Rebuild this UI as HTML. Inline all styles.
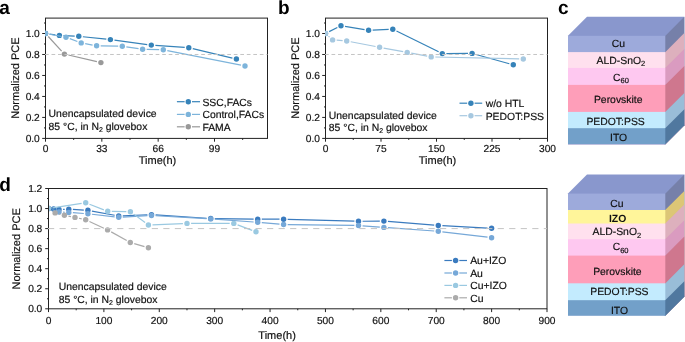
<!DOCTYPE html>
<html><head><meta charset="utf-8"><style>
html,body{margin:0;padding:0;background:#fff;}
body{width:685px;height:342px;overflow:hidden;}
svg{display:block;font-family:"Liberation Sans", sans-serif;will-change:transform;text-rendering:geometricPrecision;}
</style></head><body>
<svg width="685" height="342" viewBox="0 0 685 342">
<rect width="685" height="342" fill="#fff"/>
<rect x="45.50" y="18.10" width="222.00" height="120.30" fill="none" stroke="#222" stroke-width="1.0"/>
<line x1="45.50" y1="138.40" x2="45.50" y2="141.70" stroke="#222" stroke-width="1.0" />
<line x1="101.83" y1="138.40" x2="101.83" y2="141.70" stroke="#222" stroke-width="1.0" />
<line x1="158.17" y1="138.40" x2="158.17" y2="141.70" stroke="#222" stroke-width="1.0" />
<line x1="214.50" y1="138.40" x2="214.50" y2="141.70" stroke="#222" stroke-width="1.0" />
<line x1="73.67" y1="138.40" x2="73.67" y2="139.90" stroke="#222" stroke-width="1.0" />
<line x1="130.00" y1="138.40" x2="130.00" y2="139.90" stroke="#222" stroke-width="1.0" />
<line x1="186.34" y1="138.40" x2="186.34" y2="139.90" stroke="#222" stroke-width="1.0" />
<line x1="242.67" y1="138.40" x2="242.67" y2="139.90" stroke="#222" stroke-width="1.0" />
<line x1="42.20" y1="138.40" x2="45.50" y2="138.40" stroke="#222" stroke-width="1.0" />
<line x1="42.20" y1="117.42" x2="45.50" y2="117.42" stroke="#222" stroke-width="1.0" />
<line x1="42.20" y1="96.44" x2="45.50" y2="96.44" stroke="#222" stroke-width="1.0" />
<line x1="42.20" y1="75.46" x2="45.50" y2="75.46" stroke="#222" stroke-width="1.0" />
<line x1="42.20" y1="54.48" x2="45.50" y2="54.48" stroke="#222" stroke-width="1.0" />
<line x1="42.20" y1="33.50" x2="45.50" y2="33.50" stroke="#222" stroke-width="1.0" />
<line x1="44.00" y1="127.91" x2="45.50" y2="127.91" stroke="#222" stroke-width="1.0" />
<line x1="44.00" y1="106.93" x2="45.50" y2="106.93" stroke="#222" stroke-width="1.0" />
<line x1="44.00" y1="85.95" x2="45.50" y2="85.95" stroke="#222" stroke-width="1.0" />
<line x1="44.00" y1="64.97" x2="45.50" y2="64.97" stroke="#222" stroke-width="1.0" />
<line x1="44.00" y1="43.99" x2="45.50" y2="43.99" stroke="#222" stroke-width="1.0" />
<line x1="44.00" y1="23.01" x2="45.50" y2="23.01" stroke="#222" stroke-width="1.0" />
<text x="45.50" y="151.90" font-size="10.2" text-anchor="middle" font-weight="normal" fill="#111" stroke="#111" stroke-width="0.18" >0</text>
<text x="101.83" y="151.90" font-size="10.2" text-anchor="middle" font-weight="normal" fill="#111" stroke="#111" stroke-width="0.18" >33</text>
<text x="158.17" y="151.90" font-size="10.2" text-anchor="middle" font-weight="normal" fill="#111" stroke="#111" stroke-width="0.18" >66</text>
<text x="214.50" y="151.90" font-size="10.2" text-anchor="middle" font-weight="normal" fill="#111" stroke="#111" stroke-width="0.18" >99</text>
<text x="39.80" y="142.00" font-size="10.2" text-anchor="end" font-weight="normal" fill="#111" stroke="#111" stroke-width="0.18" >0.0</text>
<text x="39.80" y="121.02" font-size="10.2" text-anchor="end" font-weight="normal" fill="#111" stroke="#111" stroke-width="0.18" >0.2</text>
<text x="39.80" y="100.04" font-size="10.2" text-anchor="end" font-weight="normal" fill="#111" stroke="#111" stroke-width="0.18" >0.4</text>
<text x="39.80" y="79.06" font-size="10.2" text-anchor="end" font-weight="normal" fill="#111" stroke="#111" stroke-width="0.18" >0.6</text>
<text x="39.80" y="58.08" font-size="10.2" text-anchor="end" font-weight="normal" fill="#111" stroke="#111" stroke-width="0.18" >0.8</text>
<text x="39.80" y="37.10" font-size="10.2" text-anchor="end" font-weight="normal" fill="#111" stroke="#111" stroke-width="0.18" >1.0</text>
<defs><clipPath id="ca"><rect x="45" y="17.6" width="223" height="121.4"/></clipPath><clipPath id="cb"><rect x="325" y="17.6" width="223" height="121.4"/></clipPath><clipPath id="cd"><rect x="49" y="188" width="498.5" height="121.3"/></clipPath></defs>
<g stroke="#999999" stroke-width="1.2" clip-path="url(#ca)"><line x1="48.27" y1="36.52" x2="61.63" y2="51.08"/><line x1="68.39" y1="55.03" x2="96.91" y2="61.67"/></g>
<g fill="#999999" clip-path="url(#ca)"><circle cx="45.50" cy="33.50" r="2.7"/><circle cx="64.40" cy="54.10" r="2.7"/><circle cx="100.90" cy="62.60" r="2.7"/></g>
<g stroke="#3683b9" stroke-width="1.2" clip-path="url(#ca)"><line x1="49.56" y1="34.06" x2="55.34" y2="34.84"/><line x1="63.50" y1="35.59" x2="74.70" y2="36.11"/><line x1="82.88" y1="36.73" x2="106.32" y2="39.17"/><line x1="114.46" y1="40.15" x2="147.24" y2="44.55"/><line x1="155.39" y1="45.38" x2="184.71" y2="47.42"/><line x1="192.79" y1="48.65" x2="232.41" y2="58.05"/></g>
<g fill="#3683b9" clip-path="url(#ca)"><circle cx="45.50" cy="33.50" r="2.7"/><circle cx="59.40" cy="35.40" r="2.7"/><circle cx="78.80" cy="36.30" r="2.7"/><circle cx="110.40" cy="39.60" r="2.7"/><circle cx="151.30" cy="45.10" r="2.7"/><circle cx="188.80" cy="47.70" r="2.7"/><circle cx="236.40" cy="59.00" r="2.7"/></g>
<g stroke="#7db4db" stroke-width="1.2" clip-path="url(#ca)"><line x1="49.53" y1="34.23" x2="61.97" y2="36.47"/><line x1="69.84" y1="38.64" x2="77.36" y2="41.46"/><line x1="85.23" y1="43.66" x2="92.57" y2="45.04"/><line x1="100.70" y1="45.88" x2="118.20" y2="46.22"/><line x1="126.36" y1="46.88" x2="138.54" y2="48.62"/><line x1="146.70" y1="49.32" x2="159.20" y2="49.68"/><line x1="167.32" y1="50.60" x2="240.98" y2="65.20"/></g>
<g fill="#7db4db" clip-path="url(#ca)"><circle cx="45.50" cy="33.50" r="2.7"/><circle cx="66.00" cy="37.20" r="2.7"/><circle cx="81.20" cy="42.90" r="2.7"/><circle cx="96.60" cy="45.80" r="2.7"/><circle cx="122.30" cy="46.30" r="2.7"/><circle cx="142.60" cy="49.20" r="2.7"/><circle cx="163.30" cy="49.80" r="2.7"/><circle cx="245.00" cy="66.00" r="2.7"/></g>
<line x1="45.0" y1="54.47999999999999" x2="267.5" y2="54.47999999999999" stroke="#c4c4c4" stroke-width="1.0" stroke-dasharray="3.7 2.81" stroke-dashoffset="0"/>
<line x1="176.90" y1="101.70" x2="184.60" y2="101.70" stroke="#3683b9" stroke-width="1.2" />
<line x1="192.00" y1="101.70" x2="200.00" y2="101.70" stroke="#3683b9" stroke-width="1.2" />
<circle cx="188.3" cy="101.7" r="2.7" fill="#3683b9"/>
<text x="202.40" y="105.60" font-size="10.4" text-anchor="start" font-weight="normal" fill="#111" stroke="#111" stroke-width="0.18" >SSC,FACs</text>
<line x1="176.90" y1="114.40" x2="184.60" y2="114.40" stroke="#7db4db" stroke-width="1.2" />
<line x1="192.00" y1="114.40" x2="200.00" y2="114.40" stroke="#7db4db" stroke-width="1.2" />
<circle cx="188.3" cy="114.4" r="2.7" fill="#7db4db"/>
<text x="202.40" y="118.30" font-size="10.4" text-anchor="start" font-weight="normal" fill="#111" stroke="#111" stroke-width="0.18" >Control,FACs</text>
<line x1="176.90" y1="126.80" x2="184.60" y2="126.80" stroke="#999999" stroke-width="1.2" />
<line x1="192.00" y1="126.80" x2="200.00" y2="126.80" stroke="#999999" stroke-width="1.2" />
<circle cx="188.3" cy="126.8" r="2.7" fill="#999999"/>
<text x="202.40" y="130.70" font-size="10.4" text-anchor="start" font-weight="normal" fill="#111" stroke="#111" stroke-width="0.18" >FAMA</text>
<text x="48.60" y="117.00" font-size="10.4" text-anchor="start" font-weight="normal" fill="#111" stroke="#111" stroke-width="0.18" >Unencapsulated device</text>
<text x="48.60" y="129.60" font-size="10.4" text-anchor="start" font-weight="normal" fill="#111" stroke="#111" stroke-width="0.18" >85 °C, in N<tspan font-size="7" dy="2.2">2</tspan><tspan dy="-2.2"> glovebox</tspan></text>
<text x="157.55" y="163.90" font-size="11" text-anchor="middle" font-weight="normal" fill="#111" stroke="#111" stroke-width="0.18" >Time(h)</text>
<text x="18.90" y="78.05" font-size="11" text-anchor="middle" font-weight="normal" fill="#111" stroke="#111" stroke-width="0.18" transform="rotate(-90 18.9 78.05)">Normalized PCE</text>
<text x="-0.80" y="13.70" font-size="19" text-anchor="start" font-weight="bold" fill="#000" >a</text>
<rect x="325.50" y="18.10" width="222.00" height="120.30" fill="none" stroke="#222" stroke-width="1.0"/>
<line x1="325.50" y1="138.40" x2="325.50" y2="141.70" stroke="#222" stroke-width="1.0" />
<line x1="381.00" y1="138.40" x2="381.00" y2="141.70" stroke="#222" stroke-width="1.0" />
<line x1="436.50" y1="138.40" x2="436.50" y2="141.70" stroke="#222" stroke-width="1.0" />
<line x1="492.00" y1="138.40" x2="492.00" y2="141.70" stroke="#222" stroke-width="1.0" />
<line x1="547.50" y1="138.40" x2="547.50" y2="141.70" stroke="#222" stroke-width="1.0" />
<line x1="353.25" y1="138.40" x2="353.25" y2="139.90" stroke="#222" stroke-width="1.0" />
<line x1="408.75" y1="138.40" x2="408.75" y2="139.90" stroke="#222" stroke-width="1.0" />
<line x1="464.25" y1="138.40" x2="464.25" y2="139.90" stroke="#222" stroke-width="1.0" />
<line x1="519.75" y1="138.40" x2="519.75" y2="139.90" stroke="#222" stroke-width="1.0" />
<line x1="322.20" y1="138.40" x2="325.50" y2="138.40" stroke="#222" stroke-width="1.0" />
<line x1="322.20" y1="117.42" x2="325.50" y2="117.42" stroke="#222" stroke-width="1.0" />
<line x1="322.20" y1="96.44" x2="325.50" y2="96.44" stroke="#222" stroke-width="1.0" />
<line x1="322.20" y1="75.46" x2="325.50" y2="75.46" stroke="#222" stroke-width="1.0" />
<line x1="322.20" y1="54.48" x2="325.50" y2="54.48" stroke="#222" stroke-width="1.0" />
<line x1="322.20" y1="33.50" x2="325.50" y2="33.50" stroke="#222" stroke-width="1.0" />
<line x1="324.00" y1="127.91" x2="325.50" y2="127.91" stroke="#222" stroke-width="1.0" />
<line x1="324.00" y1="106.93" x2="325.50" y2="106.93" stroke="#222" stroke-width="1.0" />
<line x1="324.00" y1="85.95" x2="325.50" y2="85.95" stroke="#222" stroke-width="1.0" />
<line x1="324.00" y1="64.97" x2="325.50" y2="64.97" stroke="#222" stroke-width="1.0" />
<line x1="324.00" y1="43.99" x2="325.50" y2="43.99" stroke="#222" stroke-width="1.0" />
<line x1="324.00" y1="23.01" x2="325.50" y2="23.01" stroke="#222" stroke-width="1.0" />
<text x="325.50" y="151.90" font-size="10.2" text-anchor="middle" font-weight="normal" fill="#111" stroke="#111" stroke-width="0.18" >0</text>
<text x="381.00" y="151.90" font-size="10.2" text-anchor="middle" font-weight="normal" fill="#111" stroke="#111" stroke-width="0.18" >75</text>
<text x="436.50" y="151.90" font-size="10.2" text-anchor="middle" font-weight="normal" fill="#111" stroke="#111" stroke-width="0.18" >150</text>
<text x="492.00" y="151.90" font-size="10.2" text-anchor="middle" font-weight="normal" fill="#111" stroke="#111" stroke-width="0.18" >225</text>
<text x="547.50" y="151.90" font-size="10.2" text-anchor="middle" font-weight="normal" fill="#111" stroke="#111" stroke-width="0.18" >300</text>
<text x="319.90" y="142.00" font-size="10.2" text-anchor="end" font-weight="normal" fill="#111" stroke="#111" stroke-width="0.18" >0.0</text>
<text x="319.90" y="121.02" font-size="10.2" text-anchor="end" font-weight="normal" fill="#111" stroke="#111" stroke-width="0.18" >0.2</text>
<text x="319.90" y="100.04" font-size="10.2" text-anchor="end" font-weight="normal" fill="#111" stroke="#111" stroke-width="0.18" >0.4</text>
<text x="319.90" y="79.06" font-size="10.2" text-anchor="end" font-weight="normal" fill="#111" stroke="#111" stroke-width="0.18" >0.6</text>
<text x="319.90" y="58.08" font-size="10.2" text-anchor="end" font-weight="normal" fill="#111" stroke="#111" stroke-width="0.18" >0.8</text>
<text x="319.90" y="37.10" font-size="10.2" text-anchor="end" font-weight="normal" fill="#111" stroke="#111" stroke-width="0.18" >1.0</text>
<g stroke="#3683b9" stroke-width="1.2" clip-path="url(#cb)"><line x1="329.16" y1="31.66" x2="337.34" y2="27.54"/><line x1="345.05" y1="26.36" x2="364.55" y2="29.54"/><line x1="372.70" y1="30.03" x2="388.70" y2="29.37"/><line x1="396.48" y1="31.01" x2="438.62" y2="51.79"/><line x1="446.40" y1="53.57" x2="468.00" y2="53.43"/><line x1="476.05" y1="54.49" x2="509.35" y2="63.71"/></g>
<g fill="#3683b9" clip-path="url(#cb)"><circle cx="325.50" cy="33.50" r="2.7"/><circle cx="341.00" cy="25.70" r="2.7"/><circle cx="368.60" cy="30.20" r="2.7"/><circle cx="392.80" cy="29.20" r="2.7"/><circle cx="442.30" cy="53.60" r="2.7"/><circle cx="472.10" cy="53.40" r="2.7"/><circle cx="513.30" cy="64.80" r="2.7"/></g>
<g stroke="#a6c8e0" stroke-width="1.2" clip-path="url(#cb)"><line x1="328.55" y1="36.25" x2="329.55" y2="37.15"/><line x1="336.69" y1="40.22" x2="342.61" y2="40.68"/><line x1="350.73" y1="41.77" x2="375.57" y2="46.53"/><line x1="383.63" y1="48.04" x2="403.17" y2="51.66"/><line x1="411.23" y1="53.16" x2="427.17" y2="56.14"/><line x1="435.30" y1="56.99" x2="519.20" y2="58.91"/></g>
<g fill="#a6c8e0" clip-path="url(#cb)"><circle cx="325.50" cy="33.50" r="2.7"/><circle cx="332.60" cy="39.90" r="2.7"/><circle cx="346.70" cy="41.00" r="2.7"/><circle cx="379.60" cy="47.30" r="2.7"/><circle cx="407.20" cy="52.40" r="2.7"/><circle cx="431.20" cy="56.90" r="2.7"/><circle cx="523.30" cy="59.00" r="2.7"/></g>
<line x1="325.0" y1="54.47999999999999" x2="547.5" y2="54.47999999999999" stroke="#c4c4c4" stroke-width="1.0" stroke-dasharray="3.7 2.81" stroke-dashoffset="0"/>
<line x1="459.50" y1="103.20" x2="467.20" y2="103.20" stroke="#3683b9" stroke-width="1.2" />
<line x1="474.60" y1="103.20" x2="482.20" y2="103.20" stroke="#3683b9" stroke-width="1.2" />
<circle cx="470.9" cy="103.2" r="2.7" fill="#3683b9"/>
<text x="485.70" y="107.10" font-size="10.4" text-anchor="start" font-weight="normal" fill="#111" stroke="#111" stroke-width="0.18" >w/o HTL</text>
<line x1="459.50" y1="115.70" x2="467.20" y2="115.70" stroke="#a6c8e0" stroke-width="1.2" />
<line x1="474.60" y1="115.70" x2="482.20" y2="115.70" stroke="#a6c8e0" stroke-width="1.2" />
<circle cx="470.9" cy="115.7" r="2.7" fill="#a6c8e0"/>
<text x="485.70" y="119.60" font-size="10.4" text-anchor="start" font-weight="normal" fill="#111" stroke="#111" stroke-width="0.18" >PEDOT:PSS</text>
<text x="328.80" y="118.60" font-size="10.4" text-anchor="start" font-weight="normal" fill="#111" stroke="#111" stroke-width="0.18" >Unencapsulated device</text>
<text x="328.80" y="130.80" font-size="10.4" text-anchor="start" font-weight="normal" fill="#111" stroke="#111" stroke-width="0.18" >85 °C, in N<tspan font-size="7" dy="2.2">2</tspan><tspan dy="-2.2"> glovebox</tspan></text>
<text x="437.50" y="163.90" font-size="11" text-anchor="middle" font-weight="normal" fill="#111" stroke="#111" stroke-width="0.18" >Time(h)</text>
<text x="299.10" y="78.05" font-size="11" text-anchor="middle" font-weight="normal" fill="#111" stroke="#111" stroke-width="0.18" transform="rotate(-90 299.1 78.05)">Normalized PCE</text>
<text x="278.00" y="13.80" font-size="19" text-anchor="start" font-weight="bold" fill="#000" >b</text>
<rect x="48.50" y="188.50" width="498.50" height="120.30" fill="none" stroke="#222" stroke-width="1.0"/>
<line x1="48.50" y1="308.80" x2="48.50" y2="312.10" stroke="#222" stroke-width="1.0" />
<line x1="103.89" y1="308.80" x2="103.89" y2="312.10" stroke="#222" stroke-width="1.0" />
<line x1="159.28" y1="308.80" x2="159.28" y2="312.10" stroke="#222" stroke-width="1.0" />
<line x1="214.67" y1="308.80" x2="214.67" y2="312.10" stroke="#222" stroke-width="1.0" />
<line x1="270.06" y1="308.80" x2="270.06" y2="312.10" stroke="#222" stroke-width="1.0" />
<line x1="325.45" y1="308.80" x2="325.45" y2="312.10" stroke="#222" stroke-width="1.0" />
<line x1="380.84" y1="308.80" x2="380.84" y2="312.10" stroke="#222" stroke-width="1.0" />
<line x1="436.23" y1="308.80" x2="436.23" y2="312.10" stroke="#222" stroke-width="1.0" />
<line x1="491.62" y1="308.80" x2="491.62" y2="312.10" stroke="#222" stroke-width="1.0" />
<line x1="547.01" y1="308.80" x2="547.01" y2="312.10" stroke="#222" stroke-width="1.0" />
<line x1="76.19" y1="308.80" x2="76.19" y2="310.30" stroke="#222" stroke-width="1.0" />
<line x1="131.58" y1="308.80" x2="131.58" y2="310.30" stroke="#222" stroke-width="1.0" />
<line x1="186.97" y1="308.80" x2="186.97" y2="310.30" stroke="#222" stroke-width="1.0" />
<line x1="242.36" y1="308.80" x2="242.36" y2="310.30" stroke="#222" stroke-width="1.0" />
<line x1="297.75" y1="308.80" x2="297.75" y2="310.30" stroke="#222" stroke-width="1.0" />
<line x1="353.14" y1="308.80" x2="353.14" y2="310.30" stroke="#222" stroke-width="1.0" />
<line x1="408.53" y1="308.80" x2="408.53" y2="310.30" stroke="#222" stroke-width="1.0" />
<line x1="463.92" y1="308.80" x2="463.92" y2="310.30" stroke="#222" stroke-width="1.0" />
<line x1="519.31" y1="308.80" x2="519.31" y2="310.30" stroke="#222" stroke-width="1.0" />
<line x1="45.20" y1="308.80" x2="48.50" y2="308.80" stroke="#222" stroke-width="1.0" />
<line x1="45.20" y1="288.75" x2="48.50" y2="288.75" stroke="#222" stroke-width="1.0" />
<line x1="45.20" y1="268.70" x2="48.50" y2="268.70" stroke="#222" stroke-width="1.0" />
<line x1="45.20" y1="248.65" x2="48.50" y2="248.65" stroke="#222" stroke-width="1.0" />
<line x1="45.20" y1="228.60" x2="48.50" y2="228.60" stroke="#222" stroke-width="1.0" />
<line x1="45.20" y1="208.55" x2="48.50" y2="208.55" stroke="#222" stroke-width="1.0" />
<line x1="45.20" y1="188.50" x2="48.50" y2="188.50" stroke="#222" stroke-width="1.0" />
<line x1="47.00" y1="298.78" x2="48.50" y2="298.78" stroke="#222" stroke-width="1.0" />
<line x1="47.00" y1="278.73" x2="48.50" y2="278.73" stroke="#222" stroke-width="1.0" />
<line x1="47.00" y1="258.68" x2="48.50" y2="258.68" stroke="#222" stroke-width="1.0" />
<line x1="47.00" y1="238.62" x2="48.50" y2="238.62" stroke="#222" stroke-width="1.0" />
<line x1="47.00" y1="218.57" x2="48.50" y2="218.57" stroke="#222" stroke-width="1.0" />
<line x1="47.00" y1="198.53" x2="48.50" y2="198.53" stroke="#222" stroke-width="1.0" />
<text x="48.50" y="323.70" font-size="10.2" text-anchor="middle" font-weight="normal" fill="#111" stroke="#111" stroke-width="0.18" >0</text>
<text x="103.89" y="323.70" font-size="10.2" text-anchor="middle" font-weight="normal" fill="#111" stroke="#111" stroke-width="0.18" >100</text>
<text x="159.28" y="323.70" font-size="10.2" text-anchor="middle" font-weight="normal" fill="#111" stroke="#111" stroke-width="0.18" >200</text>
<text x="214.67" y="323.70" font-size="10.2" text-anchor="middle" font-weight="normal" fill="#111" stroke="#111" stroke-width="0.18" >300</text>
<text x="270.06" y="323.70" font-size="10.2" text-anchor="middle" font-weight="normal" fill="#111" stroke="#111" stroke-width="0.18" >400</text>
<text x="325.45" y="323.70" font-size="10.2" text-anchor="middle" font-weight="normal" fill="#111" stroke="#111" stroke-width="0.18" >500</text>
<text x="380.84" y="323.70" font-size="10.2" text-anchor="middle" font-weight="normal" fill="#111" stroke="#111" stroke-width="0.18" >600</text>
<text x="436.23" y="323.70" font-size="10.2" text-anchor="middle" font-weight="normal" fill="#111" stroke="#111" stroke-width="0.18" >700</text>
<text x="491.62" y="323.70" font-size="10.2" text-anchor="middle" font-weight="normal" fill="#111" stroke="#111" stroke-width="0.18" >800</text>
<text x="547.01" y="323.70" font-size="10.2" text-anchor="middle" font-weight="normal" fill="#111" stroke="#111" stroke-width="0.18" >900</text>
<text x="42.30" y="312.40" font-size="10.2" text-anchor="end" font-weight="normal" fill="#111" stroke="#111" stroke-width="0.18" >0.0</text>
<text x="42.30" y="292.35" font-size="10.2" text-anchor="end" font-weight="normal" fill="#111" stroke="#111" stroke-width="0.18" >0.2</text>
<text x="42.30" y="272.30" font-size="10.2" text-anchor="end" font-weight="normal" fill="#111" stroke="#111" stroke-width="0.18" >0.4</text>
<text x="42.30" y="252.25" font-size="10.2" text-anchor="end" font-weight="normal" fill="#111" stroke="#111" stroke-width="0.18" >0.6</text>
<text x="42.30" y="232.20" font-size="10.2" text-anchor="end" font-weight="normal" fill="#111" stroke="#111" stroke-width="0.18" >0.8</text>
<text x="42.30" y="212.15" font-size="10.2" text-anchor="end" font-weight="normal" fill="#111" stroke="#111" stroke-width="0.18" >1.0</text>
<text x="42.30" y="192.10" font-size="10.2" text-anchor="end" font-weight="normal" fill="#111" stroke="#111" stroke-width="0.18" >1.2</text>
<g stroke="#3a7bbf" stroke-width="1.2" clip-path="url(#cd)"><line x1="63.10" y1="209.32" x2="64.70" y2="209.28"/><line x1="72.89" y1="209.44" x2="83.81" y2="210.06"/><line x1="91.93" y1="211.05" x2="114.67" y2="215.25"/><line x1="122.80" y1="215.83" x2="147.40" y2="214.77"/><line x1="155.59" y1="214.87" x2="206.61" y2="218.23"/><line x1="214.80" y1="218.56" x2="253.60" y2="219.14"/><line x1="261.80" y1="219.20" x2="279.50" y2="219.20"/><line x1="287.70" y1="219.31" x2="354.40" y2="221.19"/><line x1="362.60" y1="221.27" x2="379.80" y2="221.13"/><line x1="387.99" y1="221.43" x2="434.21" y2="225.17"/><line x1="442.39" y1="225.72" x2="487.51" y2="228.08"/></g>
<g fill="#3a7bbf" clip-path="url(#cd)"><circle cx="48.50" cy="208.50" r="2.7"/><circle cx="53.60" cy="209.00" r="2.7"/><circle cx="59.00" cy="209.40" r="2.7"/><circle cx="68.80" cy="209.20" r="2.7"/><circle cx="87.90" cy="210.30" r="2.7"/><circle cx="118.70" cy="216.00" r="2.7"/><circle cx="151.50" cy="214.60" r="2.7"/><circle cx="210.70" cy="218.50" r="2.7"/><circle cx="257.70" cy="219.20" r="2.7"/><circle cx="283.60" cy="219.20" r="2.7"/><circle cx="358.50" cy="221.30" r="2.7"/><circle cx="383.90" cy="221.10" r="2.7"/><circle cx="438.30" cy="225.50" r="2.7"/><circle cx="491.60" cy="228.30" r="2.7"/></g>
<g stroke="#76a8d8" stroke-width="1.2" clip-path="url(#cd)"><line x1="52.39" y1="209.80" x2="55.11" y2="210.70"/><line x1="63.10" y1="212.17" x2="64.70" y2="212.23"/><line x1="72.89" y1="212.70" x2="83.81" y2="213.50"/><line x1="91.97" y1="214.26" x2="114.63" y2="216.84"/><line x1="122.79" y1="217.08" x2="147.41" y2="215.72"/><line x1="155.59" y1="215.74" x2="206.61" y2="218.66"/><line x1="214.79" y1="219.20" x2="253.61" y2="222.00"/><line x1="261.79" y1="222.65" x2="279.51" y2="224.15"/><line x1="287.70" y1="224.55" x2="354.40" y2="225.45"/><line x1="362.59" y1="225.81" x2="379.81" y2="227.09"/><line x1="387.99" y1="227.69" x2="434.21" y2="231.01"/><line x1="442.37" y1="231.79" x2="487.53" y2="237.21"/></g>
<g fill="#76a8d8" clip-path="url(#cd)"><circle cx="48.50" cy="208.50" r="2.7"/><circle cx="59.00" cy="212.00" r="2.7"/><circle cx="68.80" cy="212.40" r="2.7"/><circle cx="87.90" cy="213.80" r="2.7"/><circle cx="118.70" cy="217.30" r="2.7"/><circle cx="151.50" cy="215.50" r="2.7"/><circle cx="210.70" cy="218.90" r="2.7"/><circle cx="257.70" cy="222.30" r="2.7"/><circle cx="283.60" cy="224.50" r="2.7"/><circle cx="358.50" cy="225.50" r="2.7"/><circle cx="383.90" cy="227.40" r="2.7"/><circle cx="438.30" cy="231.30" r="2.7"/><circle cx="491.60" cy="237.70" r="2.7"/></g>
<g stroke="#ababab" stroke-width="1.2" clip-path="url(#cd)"><line x1="59.07" y1="213.92" x2="60.43" y2="214.28"/><line x1="68.42" y1="216.10" x2="70.98" y2="216.60"/><line x1="79.01" y1="218.26" x2="81.69" y2="218.84"/><line x1="89.42" y1="221.43" x2="103.88" y2="228.17"/><line x1="111.18" y1="231.89" x2="126.72" y2="240.51"/><line x1="134.23" y1="243.65" x2="144.47" y2="246.65"/></g>
<g fill="#ababab" clip-path="url(#cd)"><circle cx="48.50" cy="208.50" r="2.7"/><circle cx="55.10" cy="212.90" r="2.7"/><circle cx="64.40" cy="215.30" r="2.7"/><circle cx="75.00" cy="217.40" r="2.7"/><circle cx="85.70" cy="219.70" r="2.7"/><circle cx="107.60" cy="229.90" r="2.7"/><circle cx="130.30" cy="242.50" r="2.7"/><circle cx="148.40" cy="247.80" r="2.7"/></g>
<g stroke="#9ac9e1" stroke-width="1.2" clip-path="url(#cd)"><line x1="52.55" y1="207.88" x2="81.65" y2="203.42"/><line x1="89.52" y1="204.28" x2="103.88" y2="209.82"/><line x1="111.80" y1="211.37" x2="126.30" y2="211.63"/><line x1="133.70" y1="214.14" x2="145.10" y2="222.56"/><line x1="152.50" y1="224.83" x2="182.90" y2="223.57"/><line x1="191.10" y1="223.40" x2="229.70" y2="223.40"/><line x1="237.63" y1="224.85" x2="252.17" y2="230.35"/></g>
<g fill="#9ac9e1" clip-path="url(#cd)"><circle cx="48.50" cy="208.50" r="2.7"/><circle cx="85.70" cy="202.80" r="2.7"/><circle cx="107.70" cy="211.30" r="2.7"/><circle cx="130.40" cy="211.70" r="2.7"/><circle cx="148.40" cy="225.00" r="2.7"/><circle cx="187.00" cy="223.40" r="2.7"/><circle cx="233.80" cy="223.40" r="2.7"/><circle cx="256.00" cy="231.80" r="2.7"/></g>
<line x1="48.0" y1="228.60000000000002" x2="547.0" y2="228.60000000000002" stroke="#c4c4c4" stroke-width="1.0" stroke-dasharray="6.2 5.33" stroke-dashoffset="0"/>
<line x1="444.40" y1="260.50" x2="451.90" y2="260.50" stroke="#3a7bbf" stroke-width="1.2" />
<line x1="459.30" y1="260.50" x2="467.00" y2="260.50" stroke="#3a7bbf" stroke-width="1.2" />
<circle cx="455.6" cy="260.5" r="2.7" fill="#3a7bbf"/>
<text x="470.20" y="264.40" font-size="10.4" text-anchor="start" font-weight="normal" fill="#111" stroke="#111" stroke-width="0.18" >Au+IZO</text>
<line x1="444.40" y1="273.00" x2="451.90" y2="273.00" stroke="#76a8d8" stroke-width="1.2" />
<line x1="459.30" y1="273.00" x2="467.00" y2="273.00" stroke="#76a8d8" stroke-width="1.2" />
<circle cx="455.6" cy="273.0" r="2.7" fill="#76a8d8"/>
<text x="470.20" y="276.90" font-size="10.4" text-anchor="start" font-weight="normal" fill="#111" stroke="#111" stroke-width="0.18" >Au</text>
<line x1="444.40" y1="285.40" x2="451.90" y2="285.40" stroke="#9ac9e1" stroke-width="1.2" />
<line x1="459.30" y1="285.40" x2="467.00" y2="285.40" stroke="#9ac9e1" stroke-width="1.2" />
<circle cx="455.6" cy="285.4" r="2.7" fill="#9ac9e1"/>
<text x="470.20" y="289.30" font-size="10.4" text-anchor="start" font-weight="normal" fill="#111" stroke="#111" stroke-width="0.18" >Cu+IZO</text>
<line x1="444.40" y1="297.80" x2="451.90" y2="297.80" stroke="#ababab" stroke-width="1.2" />
<line x1="459.30" y1="297.80" x2="467.00" y2="297.80" stroke="#ababab" stroke-width="1.2" />
<circle cx="455.6" cy="297.8" r="2.7" fill="#ababab"/>
<text x="470.20" y="301.70" font-size="10.4" text-anchor="start" font-weight="normal" fill="#111" stroke="#111" stroke-width="0.18" >Cu</text>
<text x="58.70" y="290.30" font-size="10.4" text-anchor="start" font-weight="normal" fill="#111" stroke="#111" stroke-width="0.18" >Unencapsulated device</text>
<text x="58.70" y="302.60" font-size="10.4" text-anchor="start" font-weight="normal" fill="#111" stroke="#111" stroke-width="0.18" >85 °C, in N<tspan font-size="7" dy="2.2">2</tspan><tspan dy="-2.2"> glovebox</tspan></text>
<text x="277.10" y="339.10" font-size="11" text-anchor="middle" font-weight="normal" fill="#111" stroke="#111" stroke-width="0.18" >Time(h)</text>
<text x="19.90" y="248.90" font-size="11" text-anchor="middle" font-weight="normal" fill="#111" stroke="#111" stroke-width="0.18" transform="rotate(-90 19.9 248.9)">Normalized PCE</text>
<text x="-0.80" y="190.80" font-size="19" text-anchor="start" font-weight="bold" fill="#000" >d</text>
<polygon points="568.0,35.8 587.0,16.799999999999997 684.3,16.799999999999997 684.3,125.30000000000001 665.3,144.3 568.0,144.3" fill="#8997cd"/>
<polygon points="664.6999999999999,36.40 684.3,16.80 684.3,125.30 665.3,144.30 664.6999999999999,144.30" fill="#7680a9"/>
<rect x="568.0" y="35.80" width="97.29999999999995" height="108.50" fill="#9daadb"/>
<polygon points="664.6999999999999,52.70 684.3,33.10 684.3,125.30 665.3,144.30 664.6999999999999,144.30" fill="#ddb0bd"/>
<rect x="568.0" y="52.10" width="97.29999999999995" height="92.20" fill="#ffe0ee"/>
<polygon points="664.6999999999999,68.50 684.3,48.90 684.3,125.30 665.3,144.30 664.6999999999999,144.30" fill="#da9bc0"/>
<rect x="568.0" y="67.90" width="97.29999999999995" height="76.40" fill="#fec8f0"/>
<polygon points="664.6999999999999,85.50 684.3,65.90 684.3,125.30 665.3,144.30 664.6999999999999,144.30" fill="#cf778e"/>
<rect x="568.0" y="84.90" width="97.29999999999995" height="59.40" fill="#fe9eb9"/>
<polygon points="664.6999999999999,112.50 684.3,92.90 684.3,125.30 665.3,144.30 664.6999999999999,144.30" fill="#99bdd8"/>
<rect x="568.0" y="111.90" width="97.29999999999995" height="32.40" fill="#c3ebfe"/>
<polygon points="664.6999999999999,128.80 684.3,109.20 684.3,125.30 665.3,144.30 664.6999999999999,144.30" fill="#50789f"/>
<rect x="568.0" y="128.20" width="97.29999999999995" height="16.10" fill="#72a0c9"/>
<text x="618.30" y="47.00" font-size="10.4" text-anchor="middle" font-weight="normal" fill="#111" stroke="#111" stroke-width="0.18" >Cu</text>
<text x="596.60" y="63.60" font-size="10.4" text-anchor="start" font-weight="normal" fill="#111" stroke="#111" stroke-width="0.18" >ALD-SnO<tspan font-size="7.5" dy="2.2">2</tspan></text>
<text x="613.00" y="81.00" font-size="10.4" text-anchor="start" font-weight="normal" fill="#111" stroke="#111" stroke-width="0.18" >C<tspan font-size="7.5" dy="2.2">60</tspan></text>
<text x="618.20" y="102.50" font-size="10.4" text-anchor="middle" font-weight="normal" fill="#111" stroke="#111" stroke-width="0.18" >Perovskite</text>
<text x="615.60" y="125.00" font-size="10.4" text-anchor="middle" font-weight="normal" fill="#111" stroke="#111" stroke-width="0.18" >PEDOT:PSS</text>
<text x="618.60" y="140.80" font-size="10.4" text-anchor="middle" font-weight="normal" fill="#111" stroke="#111" stroke-width="0.18" >ITO</text>
<text x="558.00" y="13.80" font-size="19" text-anchor="start" font-weight="bold" fill="#000" >c</text>
<polygon points="568.0,193.6 587.0,174.6 684.3,174.6 684.3,296.7 665.3,315.7 568.0,315.7" fill="#8997cd"/>
<polygon points="664.6999999999999,194.20 684.3,174.60 684.3,296.70 665.3,315.70 664.6999999999999,315.70" fill="#7680a9"/>
<rect x="568.0" y="193.60" width="97.29999999999995" height="122.10" fill="#9daadb"/>
<polygon points="664.6999999999999,210.60 684.3,191.00 684.3,296.70 665.3,315.70 664.6999999999999,315.70" fill="#dcc676"/>
<rect x="568.0" y="210.00" width="97.29999999999995" height="105.70" fill="#fff59a"/>
<polygon points="664.6999999999999,224.10 684.3,204.50 684.3,296.70 665.3,315.70 664.6999999999999,315.70" fill="#ddb0bd"/>
<rect x="568.0" y="223.50" width="97.29999999999995" height="92.20" fill="#ffe0ee"/>
<polygon points="664.6999999999999,239.80 684.3,220.20 684.3,296.70 665.3,315.70 664.6999999999999,315.70" fill="#da9bc0"/>
<rect x="568.0" y="239.20" width="97.29999999999995" height="76.50" fill="#fec8f0"/>
<polygon points="664.6999999999999,256.20 684.3,236.60 684.3,296.70 665.3,315.70 664.6999999999999,315.70" fill="#cf778e"/>
<rect x="568.0" y="255.60" width="97.29999999999995" height="60.10" fill="#fe9eb9"/>
<polygon points="664.6999999999999,283.90 684.3,264.30 684.3,296.70 665.3,315.70 664.6999999999999,315.70" fill="#99bdd8"/>
<rect x="568.0" y="283.30" width="97.29999999999995" height="32.40" fill="#c3ebfe"/>
<polygon points="664.6999999999999,300.80 684.3,281.20 684.3,296.70 665.3,315.70 664.6999999999999,315.70" fill="#50789f"/>
<rect x="568.0" y="300.20" width="97.29999999999995" height="15.50" fill="#72a0c9"/>
<text x="617.00" y="206.90" font-size="10.4" text-anchor="middle" font-weight="normal" fill="#111" stroke="#111" stroke-width="0.18" >Cu</text>
<text x="617.60" y="221.60" font-size="10.4" text-anchor="middle" font-weight="bold" fill="#111" >IZO</text>
<text x="592.50" y="235.40" font-size="10.4" text-anchor="start" font-weight="normal" fill="#111" stroke="#111" stroke-width="0.18" >ALD-SnO<tspan font-size="7.5" dy="2.2">2</tspan></text>
<text x="612.70" y="250.30" font-size="10.4" text-anchor="start" font-weight="normal" fill="#111" stroke="#111" stroke-width="0.18" >C<tspan font-size="7.5" dy="2.2">60</tspan></text>
<text x="617.40" y="274.80" font-size="10.4" text-anchor="middle" font-weight="normal" fill="#111" stroke="#111" stroke-width="0.18" >Perovskite</text>
<text x="619.40" y="294.80" font-size="10.4" text-anchor="middle" font-weight="normal" fill="#111" stroke="#111" stroke-width="0.18" >PEDOT:PSS</text>
<text x="619.50" y="313.70" font-size="10.4" text-anchor="middle" font-weight="normal" fill="#111" stroke="#111" stroke-width="0.18" >ITO</text>
</svg></body></html>
